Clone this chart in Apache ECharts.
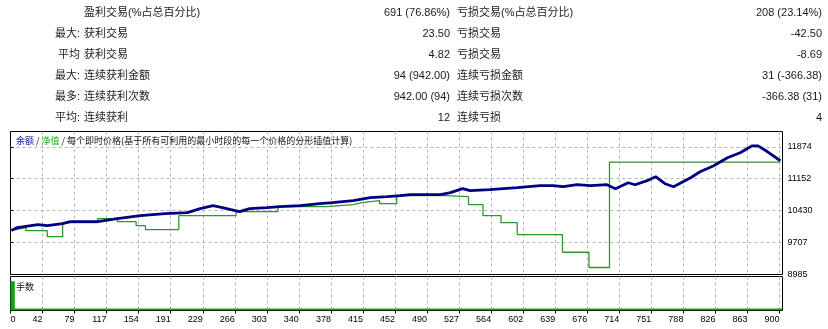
<!DOCTYPE html>
<html>
<head>
<meta charset="utf-8">
<script src="https://cdn.jsdelivr.net/npm/echarts@6/dist/echarts.min.js"></script>
<style>
html,body{margin:0;padding:0;background:#fff}
#chart{width:828px;height:329px}
</style>
</head>
<body>
<div id="chart"></div>
<script>
// 统计表
var statLabels = ['', '最大:', '平均', '最大:', '最多:', '平均:'];
var winNames = ['盈利交易(%占总百分比)', '获利交易', '获利交易', '连续获利金额', '连续获利次数', '连续获利'];
var winValues = ['691 (76.86%)', '23.50', '4.82', '94 (942.00)', '942.00 (94)', '12'];
var lossNames = ['亏损交易(%占总百分比)', '亏损交易', '亏损交易', '连续亏损金额', '连续亏损次数', '连续亏损'];
var lossValues = ['208 (23.14%)', '-42.50', '-8.69', '31 (-366.38)', '-366.38 (31)', '4'];

// 余额
var balanceX = [1, 8, 32, 43, 61, 70, 102, 125, 152, 181, 207, 222, 237, 248, 263, 268, 280, 300, 315, 339, 362, 377, 401, 421, 441, 456, 468, 503, 515, 529, 538, 561, 593, 620, 635, 647, 663, 679, 698, 708, 723, 731, 745, 755, 766, 776, 796, 807, 823, 839, 854, 868, 875, 886, 901];
var balanceY = [9978, 10046, 10114, 10091, 10136, 10181, 10181, 10249, 10317, 10362, 10384, 10475, 10542, 10497, 10430, 10407, 10475, 10497, 10520, 10542, 10587, 10610, 10655, 10723, 10745, 10768, 10791, 10791, 10836, 10926, 10881, 10903, 10949, 10994, 10994, 10971, 11016, 10994, 11016, 10926, 11061, 11016, 11107, 11197, 11039, 10971, 11174, 11310, 11445, 11626, 11739, 11896, 11896, 11761, 11558];
// 净值
var equityX = [1, 7, 18, 43, 61, 102, 125, 147, 158, 197, 264, 313, 370, 401, 411, 432, 452, 509, 536, 553, 574, 593, 646, 677, 701, 901];
var equityY = [10001, 10046, 9978, 9843, 10159, 10249, 10181, 10091, 10001, 10317, 10407, 10520, 10565, 10610, 10655, 10587, 10768, 10745, 10565, 10317, 10159, 9888, 9488, 9143, 11529, 11529];
// 手数
var volumeX = [0, 5, 903];
var volumeY = [0.86, 0.06, 0.06];

var xTickLabels = ['0', '42', '79', '117', '154', '191', '229', '266', '303', '340', '378', '415', '452', '490', '527', '564', '602', '639', '676', '714', '751', '788', '826', '863', '900'];

function zip(xs, ys) {
    var out = [];
    for (var i = 0; i < xs.length; i++) out.push([xs[i], ys[i]]);
    return out;
}

var chart = echarts.init(document.getElementById('chart'));

var graphics = [];
var cn = '11px "Liberation Sans", "Noto Sans CJK SC"';
for (var i = 0; i < winNames.length; i++) {
    var y = 13 + i * 21;
    graphics.push({type: 'text', x: 80, y: y, style: {text: statLabels[i], font: cn, fill: '#1a1a1a', textAlign: 'right', textVerticalAlign: 'middle'}});
    graphics.push({type: 'text', x: 84, y: y, style: {text: winNames[i], font: cn, fill: '#1a1a1a', textAlign: 'left', textVerticalAlign: 'middle'}});
    graphics.push({type: 'text', x: 450, y: y, style: {text: winValues[i], font: cn, fill: '#1a1a1a', textAlign: 'right', textVerticalAlign: 'middle'}});
    graphics.push({type: 'text', x: 457, y: y, style: {text: lossNames[i], font: cn, fill: '#1a1a1a', textAlign: 'left', textVerticalAlign: 'middle'}});
    graphics.push({type: 'text', x: 822, y: y, style: {text: lossValues[i], font: cn, fill: '#1a1a1a', textAlign: 'right', textVerticalAlign: 'middle'}});
}
graphics.push({
    type: 'text', x: 16, y: 141, z: 100,
    style: {
        text: '{b|余额} / {g|净值} / 每个即时价格(基于所有可利用的最小时段的每一个价格的分形插值计算)',
        font: '9px "Noto Sans CJK SC"', fill: '#111', textVerticalAlign: 'middle',
        rich: {b: {fill: '#1010a0', font: '9px "Noto Sans CJK SC"'}, g: {fill: '#10b010', font: '9px "Noto Sans CJK SC"'}}
    }
});
graphics.push({
    type: 'text', x: 15, y: 287, z: 100,
    style: {text: '手数', font: '9px "Noto Sans CJK SC"', fill: '#111', textVerticalAlign: 'middle', backgroundColor: '#fff', padding: [0, 1]}
});

var dashed = {show: true, showMinLine: false, showMaxLine: false, lineStyle: {color: '#b4b4b4', type: [3, 3], width: 1}};

var option = {
    animation: false,
    backgroundColor: '#fff',
    graphic: graphics,
    grid: [
        {left: 10.5, top: 131.5, right: 45.5, height: 143, show: true, borderColor: '#000', borderWidth: 1},
        {left: 10.5, top: 276.5, right: 45.5, height: 34, show: true, borderColor: '#000', borderWidth: 1}
    ],
    xAxis: [
        {gridIndex: 0, type: 'value', min: 0, max: 903.5, interval: 37.5,
         axisLine: {show: false}, axisTick: {show: false}, axisLabel: {show: false}, splitLine: dashed},
        {gridIndex: 1, type: 'value', min: 0, max: 903.5, interval: 37.5,
         axisLine: {show: false},
         axisTick: {show: true, length: 3, lineStyle: {color: '#000'}},
         axisLabel: {
             show: true, color: '#000', fontSize: 9, fontFamily: 'Liberation Sans', margin: 5,
             align: 'right', alignMinLabel: 'left', showMaxLabel: false,
             formatter: function (v) { return xTickLabels[Math.round(v / 37.5)] || ''; }
         },
         splitLine: dashed}
    ],
    yAxis: [
        {gridIndex: 0, type: 'value', position: 'right', min: 8985, max: 12220, interval: 722.25,
         axisLine: {show: false},
         axisTick: {show: true, length: 3, lineStyle: {color: '#000'}},
         axisLabel: {color: '#000', fontSize: 9, fontFamily: 'Liberation Sans', margin: 5, showMaxLabel: false,
                     formatter: function (v) { return Math.round(v); }},
         splitLine: dashed},
        {gridIndex: 1, type: 'value', min: 0, max: 1, show: false}
    ],
    series: [
        {name: '净值', type: 'line', xAxisIndex: 0, yAxisIndex: 0, step: 'end', showSymbol: false,
         data: zip(equityX, equityY), lineStyle: {color: '#2f962f', width: 1.3}},
        {name: '余额', type: 'line', xAxisIndex: 0, yAxisIndex: 0, showSymbol: false,
         data: zip(balanceX, balanceY), lineStyle: {color: '#000080', width: 2.8}},
        {name: '手数', type: 'line', xAxisIndex: 1, yAxisIndex: 1, step: 'end', showSymbol: false,
         data: zip(volumeX, volumeY), lineStyle: {width: 0}, areaStyle: {color: '#14a014', opacity: 1}}
    ]
};
chart.setOption(option);
</script>
</body>
</html>
